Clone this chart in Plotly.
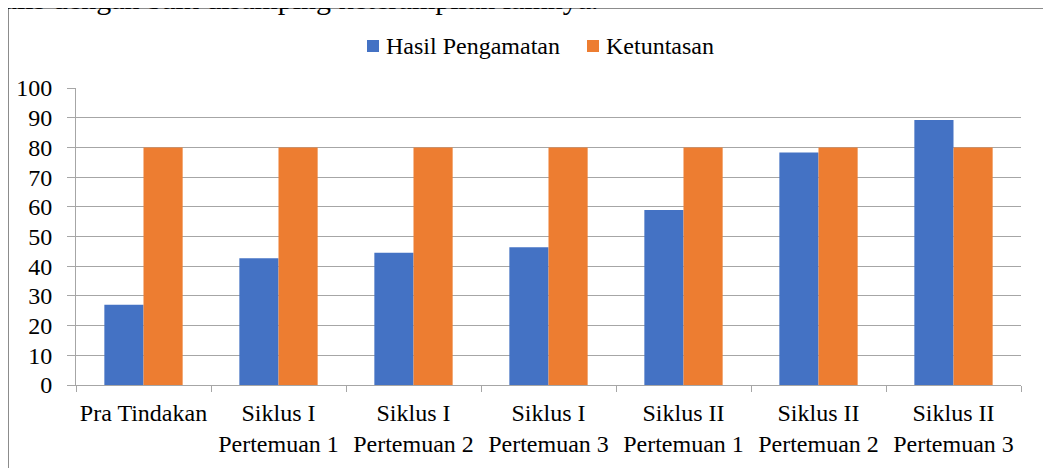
import plotly.graph_objects as go

categories = ["Pra Tindakan", "Siklus I<br>Pertemuan 1", "Siklus I<br>Pertemuan 2",
              "Siklus I<br>Pertemuan 3", "Siklus II<br>Pertemuan 1",
              "Siklus II<br>Pertemuan 2", "Siklus II<br>Pertemuan 3"]
hasil = [27, 42.7, 44.5, 46.4, 58.9, 78.3, 89.2]
ketuntasan = [80, 80, 80, 80, 80, 80, 80]
series_names = ["Hasil Pengamatan", "Ketuntasan"]
series_colors = ["#4472C4", "#ED7D31"]
y_ticks = [0, 10, 20, 30, 40, 50, 60, 70, 80, 90, 100]

# figure pixel geometry (page is offset by the 8px body margin)
W, H = 1051, 468
L, T = 68, 80
PR, PB = 1013, 377
R, B = W - PR, H - PB
pw, ph = PR - L, PB - T

def px(x):
    return (x - L) / pw

def py(y):
    return (PB - y) / ph

font = "Times New Roman, Liberation Serif, DejaVu Serif, serif"
fs = 24

fig = go.Figure()
for name, vals, col in zip(series_names, [hasil, ketuntasan], series_colors):
    fig.add_trace(go.Bar(name=name, x=categories, y=vals, showlegend=False,
                         marker=dict(color=col, line=dict(width=0))))

shapes = [
    dict(type="line", xref="paper", yref="paper", x0=px(0.5), x1=px(1080),
         y0=py(0.5), y1=py(0.5), line=dict(color="#8c8c8c", width=1)),
    dict(type="line", xref="paper", yref="paper", x0=px(0.5), x1=px(0.5),
         y0=py(0.5), y1=py(500), line=dict(color="#8c8c8c", width=1)),
]
annotations = [
    dict(text="ulis dengan baik disamping keterampilan lainnya.", xref="paper", yref="paper",
         x=px(-8), y=py(9.5), xanchor="left", yanchor="bottom", showarrow=False,
         font=dict(size=30, family=font, color="black")),
]
leg_sq_x = [359, 579]
for name, col, sx in zip(series_names, series_colors, leg_sq_x):
    shapes.append(dict(type="rect", xref="paper", yref="paper", x0=px(sx), x1=px(sx + 12),
                       y0=py(32), y1=py(44), fillcolor=col, line=dict(width=0)))
    annotations.append(dict(text=name, xref="paper", yref="paper", x=px(sx + 17), y=py(38),
                            xanchor="left", yanchor="middle", showarrow=False,
                            font=dict(size=fs, family=font, color="black")))

fig.update_layout(
    width=W, height=H,
    margin=dict(l=L, r=R, t=T, b=B, autoexpand=False),
    paper_bgcolor="white", plot_bgcolor="white",
    barmode="group", bargap=0.42, bargroupgap=0,
    font=dict(family=font, size=fs, color="black"),
    showlegend=False,
    xaxis=dict(showgrid=False, showline=True, linecolor="#a6a6a6", linewidth=1,
               ticks="outside", tickson="boundaries", ticklen=6, tickcolor="#a6a6a6",
               tickfont=dict(size=fs, family=font), fixedrange=True, automargin=False,
               tickangle=0, ticklabelstandoff=6),
    yaxis=dict(range=[0, 100], tickvals=y_ticks, showgrid=True, gridcolor="#a6a6a6",
               gridwidth=1, showline=True, linecolor="#a6a6a6", linewidth=1,
               ticks="outside", ticklen=8, tickcolor="#a6a6a6", zeroline=False,
               tickfont=dict(size=fs, family=font), fixedrange=True, automargin=False,
               ticklabelstandoff=10),
    shapes=shapes,
    annotations=annotations,
)

fig.write_html("out.html")
